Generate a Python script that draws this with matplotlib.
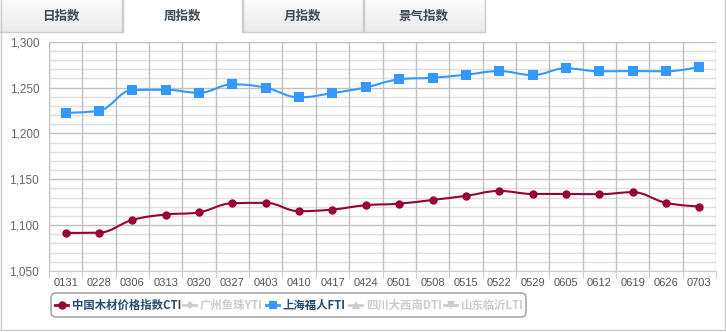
import matplotlib
matplotlib.use('Agg')
import matplotlib.pyplot as plt
import numpy as np
from matplotlib.path import Path
from matplotlib.patches import PathPatch, FancyBboxPatch

plt.rcParams['font.family'] = ['Noto Sans CJK SC', 'DejaVu Sans']

# chart data
weeks = ['0131', '0228', '0306', '0313', '0320', '0327', '0403', '0410', '0417', '0424',
         '0501', '0508', '0515', '0522', '0529', '0605', '0612', '0619', '0626', '0703']
cti = [1091.5, 1091.8, 1105.7, 1111.6, 1114.0, 1123.9, 1124.3, 1115.2, 1117.0, 1121.7,
       1123.4, 1127.5, 1131.9, 1137.3, 1134.0, 1134.0, 1133.7, 1135.9, 1124.3, 1120.3]
fti = [1222.5, 1224.7, 1247.3, 1247.6, 1244.3, 1253.5, 1249.8, 1239.3, 1244.0, 1250.2,
       1259.0, 1260.7, 1264.0, 1268.0, 1263.6, 1271.0, 1267.7, 1268.0, 1267.7, 1272.4]
tabs = ['日指数', '周指数', '月指数', '景气指数']
legend_names = ['中国木材价格指数CTI', '广州鱼珠YTI', '上海福人FTI', '四川大西南DTI', '山东临沂LTI']
legend_on = [True, False, True, False, False]

RED = '#990033'
BLUE = '#3399ff'
GRAY = '#cccccc'


def spline_path(xs, ys, smoothing=1.5):
    # highcharts style spline control points
    n = len(xs)
    verts = [(xs[0], ys[0])]
    codes = [Path.MOVETO]
    ctrl = []
    denom = smoothing + 1
    for i in range(n):
        if i == 0 or i == n - 1:
            ctrl.append(((xs[i], ys[i]), (xs[i], ys[i])))
            continue
        lx = (smoothing * xs[i] + xs[i - 1]) / denom
        ly = (smoothing * ys[i] + ys[i - 1]) / denom
        rx = (smoothing * xs[i] + xs[i + 1]) / denom
        ry = (smoothing * ys[i] + ys[i + 1]) / denom
        corr = ((ry - ly) * (rx - xs[i])) / (rx - lx) + ys[i] - ry
        ly += corr
        ry += corr
        if ly > ys[i - 1] and ly > ys[i]:
            ly = max(ys[i - 1], ys[i]); ry = 2 * ys[i] - ly
        elif ly < ys[i - 1] and ly < ys[i]:
            ly = min(ys[i - 1], ys[i]); ry = 2 * ys[i] - ly
        if ry > ys[i + 1] and ry > ys[i]:
            ry = max(ys[i + 1], ys[i]); ly = 2 * ys[i] - ry
        elif ry < ys[i + 1] and ry < ys[i]:
            ry = min(ys[i + 1], ys[i]); ly = 2 * ys[i] - ry
        ctrl.append(((lx, ly), (rx, ry)))
    for i in range(1, n):
        verts += [ctrl[i - 1][1], ctrl[i][0], (xs[i], ys[i])]
        codes += [Path.CURVE4] * 3
    return Path(verts, codes)


W, H = 726, 332
fig = plt.figure(figsize=(W / 100, H / 100), dpi=100)
fig.patch.set_facecolor('white')

# decoration layer in pixel coords
deco = fig.add_axes([0, 0, 1, 1])
deco.set_xlim(0, W)
deco.set_ylim(H, 0)
deco.axis('off')

# panel border
deco.plot([1, 1], [32, 330], color='#cccccc', lw=1)
deco.plot([1, 725], [330, 330], color='#cccccc', lw=1)
deco.plot([725, 725], [0, 330], color='#cccccc', lw=1)

# tabs
tab_x = [0, 122, 242, 363, 485]
grad = np.linspace(0, 1, 50).reshape(-1, 1)
tab_cmap = matplotlib.colors.LinearSegmentedColormap.from_list('g', ['#fbfbfb', '#ebebeb'])
for i, name in enumerate(tabs):
    x0, x1 = tab_x[i], tab_x[i + 1]
    if i != 1:
        deco.imshow(grad, extent=[x0, x1, 32, 0], cmap=tab_cmap, aspect='auto', zorder=1)
        deco.plot([x0, x1], [31.5, 31.5], color='#cccccc', lw=1, zorder=2)
    deco.plot([x0 + 0.5, x0 + 0.5], [0, 32], color='#cccccc', lw=1, zorder=2)
    deco.plot([x1 - 0.5, x1 - 0.5], [0, 32], color='#cccccc', lw=1, zorder=2)
    deco.text((x0 + x1) / 2, 16, name, ha='center', va='center', fontsize=9,
              fontweight='bold', color='#3c4a55', zorder=3)
deco.set_xlim(0, W)
deco.set_ylim(H, 0)

# legend box
deco.add_patch(FancyBboxPatch((53, 295), 471, 20, boxstyle='round,pad=2,rounding_size=5',
                              facecolor='white', edgecolor='#999999', lw=1))
leg_x = [55, 183, 266, 349, 444]
leg_marker = ['o', 'D', 's', '^', 'v']
for i, name in enumerate(legend_names):
    c = (RED if i == 0 else BLUE) if legend_on[i] else GRAY
    tc = '#274b6d' if legend_on[i] else GRAY
    x = leg_x[i]
    deco.plot([x, x + 13], [305, 305], color=c, lw=2)
    deco.plot([x + 6.5], [305], marker=leg_marker[i], color=c, ms=6 if i != 1 else 4,
              markeredgewidth=0)
    deco.text(x + 17, 305, name, ha='left', va='center', fontsize=8.2, fontweight='bold', color=tc)

# main plot
ax = fig.add_axes([49 / W, (H - 271) / H, (716 - 49) / W, (271 - 41.7) / H])
ax.set_facecolor('white')
xs = np.arange(len(weeks))
ax.set_xlim(-0.5, len(weeks) - 0.5)
ax.set_ylim(1050, 1300)

for v in range(1050, 1301, 10):
    ax.axhline(v, color='#c0c0c0' if v % 50 == 0 else '#e0e0e0', lw=1, zorder=1)
for b in np.arange(-0.5, len(weeks), 1):
    ax.axvline(b, color='#c0c0c0', lw=1, zorder=1)

for vals, color, mk, ms in [(fti, BLUE, 's', 6.5), (cti, RED, 'o', 6)]:
    ax.add_patch(PathPatch(spline_path(xs, vals), facecolor='none', edgecolor=color, lw=1.5, zorder=3))
    ax.plot(xs, vals, linestyle='none', marker=mk, color=color, ms=ms, markeredgewidth=0, zorder=4)

for s in ['top', 'right', 'left']:
    ax.spines[s].set_visible(False)
ax.spines['bottom'].set_color('#c0d0e0')
ax.set_yticks(range(1050, 1301, 50))
ax.set_yticklabels([f'{v:,}' for v in range(1050, 1301, 50)], fontfamily='Liberation Sans',
                   fontsize=8.5, color='#666666')
ax.tick_params(axis='y', length=0, pad=7)
ax.set_xticks(np.arange(-0.5, len(weeks), 1), minor=False)
ax.set_xticklabels([])
ax.tick_params(axis='x', which='major', length=5, color='#c0d0e0')
ax.set_xticks(xs, minor=True)
ax.set_xticklabels(weeks, minor=True, fontfamily='Liberation Sans', fontsize=8, color='#555555')
ax.tick_params(axis='x', which='minor', length=0, pad=5)

fig.savefig('out.png', dpi=100)
